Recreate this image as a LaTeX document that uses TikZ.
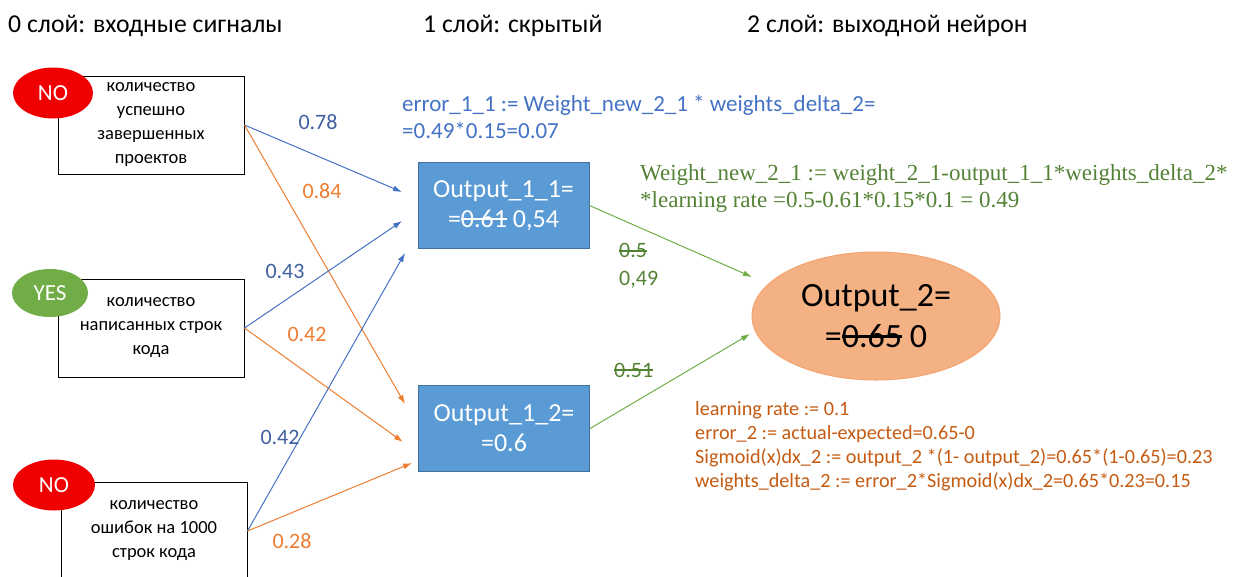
\documentclass[tikz,border=0pt]{standalone}
\usepackage{fontspec}
\setmainfont{Carlito}
\newfontfamily\timesfont{Liberation Serif}
\usetikzlibrary{shapes,arrows.meta}

\newcommand{\strk}[1]{\setbox0\hbox{#1}\rlap{\vrule height 0.36em depth -0.28em width \wd0}\box0\relax}

\definecolor{nodeblue}{HTML}{5B9BD5}
\definecolor{nodeblueline}{HTML}{41719C}
\definecolor{lineblue}{HTML}{4472C4}
\definecolor{textblue}{HTML}{3F5FA0}
\definecolor{lineorange}{HTML}{ED7D31}
\definecolor{textbrown}{HTML}{C55A11}
\definecolor{linegreen}{HTML}{70AD47}
\definecolor{textgreen}{HTML}{548235}
\definecolor{flagred}{HTML}{F00000}
\definecolor{outfill}{HTML}{F4B183}

\tikzstyle{inbox} = [rectangle, draw=black, fill=white, line width=1pt,
    minimum width=186pt, minimum height=98pt, align=center,
    font=\fontsize{18.5}{24}\selectfont]
\tikzstyle{flag} = [ellipse, draw=none, text=white, inner sep=0pt,
    font=\fontsize{23}{24}\selectfont]
\tikzstyle{hidden} = [rectangle, draw=nodeblueline, fill=nodeblue, text=white,
    line width=1pt, minimum width=171pt, minimum height=86pt, align=center,
    font=\fontsize{26}{30}\selectfont]
\tikzstyle{head} = [anchor=west, inner sep=0pt, font=\fontsize{25.7}{28}\selectfont]
\tikzstyle{weight} = [inner sep=0pt, font=\fontsize{22}{26}\selectfont]
\tikzstyle{bline} = [draw, lineblue, line width=1pt, -{Latex[length=9pt,width=6pt]}]
\tikzstyle{oline} = [draw, lineorange, line width=1pt, -{Latex[length=9pt,width=6pt]}]
\tikzstyle{gline} = [draw, linegreen, line width=1pt, -{Latex[length=9pt,width=6pt]}]

\begin{document}
\begin{tikzpicture}[x=1pt, y=-1pt]
    \useasboundingbox (0,0) rectangle (1238,576);
    % Layer titles
    \node [head] (layer0) at (8,26) {0 слой: входные сигналы};
    \node [head] (layer1) at (423,26) {1 слой: скрытый};
    \node [head] (layer2) at (747,26) {2 слой: выходной нейрон};

    % Place nodes
    \node [inbox] (in1) at (151,125) {количество\\успешно\\завершенных\\проектов};
    \node [inbox] (in2) at (151,328) {количество\\написанных строк\\кода};
    \node [inbox] (in3) at (154,531) {количество\\ошибок на 1000\\строк кода};
    \node [flag, fill=flagred, minimum width=80pt, minimum height=51pt] (no1) at (53,93) {NO};
    \node [flag, fill=linegreen, minimum width=76pt, minimum height=48pt] (yes2) at (50,293) {YES};
    \node [flag, fill=flagred, minimum width=82pt, minimum height=51pt] (no3) at (54,485) {NO};

    \node [hidden] (h1) at (503.5,205.5) {Output\_1\_1=\\=\strk{0.61} 0,54};
    \node [hidden] (h2) at (504,428.5) {Output\_1\_2=\\=0.6};

    \node [ellipse, draw=lineorange!70, fill=outfill, line width=1pt,
        minimum width=248pt, minimum height=128pt, align=center,
        font=\fontsize{34}{41}\selectfont] (out) at (876,316) {Output\_2=\\=\strk{0.65} 0};

    % Arrow ends
    \coordinate (h1a) at (402,192);
    \coordinate (h1b) at (402,221);
    \coordinate (h1c) at (405,253);
    \coordinate (h2a) at (405,404);
    \coordinate (h2b) at (403,442);
    \coordinate (h2c) at (412,463);
    \coordinate (outa) at (752,277);
    \coordinate (outb) at (750,334);

    % Draw edges
    \path [bline] (in1.east) -- (h1a);
    \path [oline] (in1.east) -- (h2a);
    \path [bline] (in2.east) -- (h1b);
    \path [oline] (in2.east) -- (h2b);
    \path [bline] (in3.east) -- (h1c);
    \path [oline] (in3.east) -- (h2c);
    \path [gline] (h1.east) -- (outa);
    \path [gline] (h2.east) -- (outb);

    % Weights
    \node [weight, text=textblue] (w11) at (318,122) {0.78};
    \node [weight, text=lineorange] (w12) at (322,191) {0.84};
    \node [weight, text=textblue] (w21) at (285,271) {0.43};
    \node [weight, text=lineorange] (w22) at (307,334) {0.42};
    \node [weight, text=textblue] (w31) at (280,437) {0.42};
    \node [weight, text=lineorange] (w32) at (292,541) {0.28};
    \node [weight, text=textgreen, anchor=west, align=left,
        font=\fontsize{22}{28}\selectfont] (wo1) at (619,266) {\strk{0.5}\\0,49};
    \node [weight, text=textgreen, anchor=west] (wo2) at (614,370) {\strk{0.51}};

    % Formulas
    \node [anchor=west, align=left, inner sep=0pt, text=lineblue,
        font=\fontsize{23}{27}\selectfont] (err11) at (402,116.5)
        {error\_1\_1 := Weight\_new\_2\_1 * weights\_delta\_2=\\=0.49*0.15=0.07};
    \node [anchor=west, align=left, inner sep=0pt, text=textgreen,
        font=\timesfont\fontsize{23}{27}\selectfont] (wnew) at (640,188.5)
        {Weight\_new\_2\_1 := weight\_2\_1-output\_1\_1*weights\_delta\_2*\\*learning rate =0.5-0.61*0.15*0.1 = 0.49};
    \node [anchor=west, align=left, inner sep=0pt, text=textbrown,
        font=\fontsize{20.2}{24}\selectfont] (calc) at (695,446)
        {learning rate := 0.1\\error\_2 := actual-expected=0.65-0\\Sigmoid(x)dx\_2 := output\_2 *(1- output\_2)=0.65*(1-0.65)=0.23\\weights\_delta\_2 := error\_2*Sigmoid(x)dx\_2=0.65*0.23=0.15};
\end{tikzpicture}
\end{document}
